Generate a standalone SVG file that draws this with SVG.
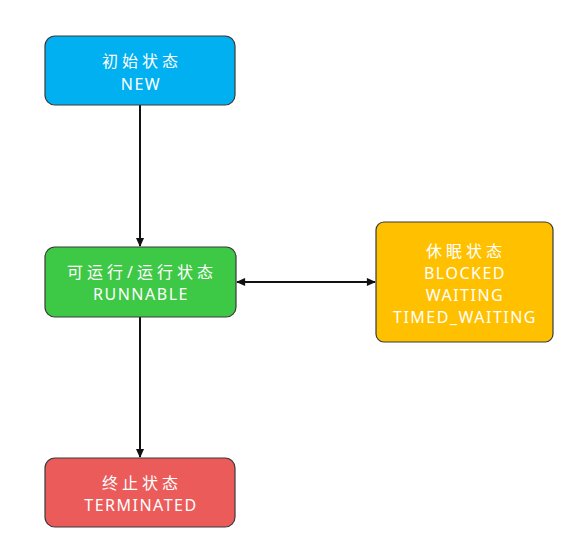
<svg xmlns="http://www.w3.org/2000/svg" width="578" height="548" viewBox="0 0 578 548">
<style>
.box{stroke:#3a3a3a;stroke-width:1.2}
.t{font-family:"Noto Sans","Noto Sans CJK SC",sans-serif;font-size:16px;fill:#ffffff;text-anchor:middle;letter-spacing:1.5px}
.z{letter-spacing:4px}
.c{stroke:#111;stroke-width:2;fill:none}
</style>
<defs>
<marker id="ah" viewBox="0 0 10 10" refX="9" refY="5" markerWidth="10" markerHeight="9" orient="auto-start-reverse" markerUnits="userSpaceOnUse">
<path d="M0,0.5 L10,5 L0,9.5 Z" fill="#111"/>
</marker>
</defs>
<rect width="578" height="548" fill="#ffffff"/>
<g id="connectors">
<line class="c" x1="140" y1="105" x2="140" y2="246" marker-end="url(#ah)"/>
<line class="c" x1="140" y1="317" x2="140" y2="457" marker-end="url(#ah)"/>
<line class="c" x1="237" y1="282" x2="375" y2="282" marker-start="url(#ah)" marker-end="url(#ah)"/>
</g>
<g id="node-new">
<rect class="box" x="45" y="36" width="190" height="69" rx="10" fill="#00B0F0"/>
<text class="t z" x="142" y="67">初始状态</text>
<text class="t" x="141" y="90">NEW</text>
</g>
<g id="node-runnable">
<rect class="box" x="45" y="247" width="191" height="70" rx="10" fill="#3DC845"/>
<text class="t z" x="142" y="278">可运行/运行状态</text>
<text class="t" x="141" y="300">RUNNABLE</text>
</g>
<g id="node-waiting">
<rect class="box" x="376" y="222" width="177" height="120" rx="8" fill="#FFC000"/>
<text class="t z" x="466" y="257">休眠状态</text>
<text class="t" x="465" y="279">BLOCKED</text>
<text class="t" x="465" y="301">WAITING</text>
<text class="t" x="465" y="323">TIMED_WAITING</text>
</g>
<g id="node-terminated">
<rect class="box" x="45" y="458" width="190" height="69" rx="10" fill="#EA5B5A"/>
<text class="t z" x="142" y="489">终止状态</text>
<text class="t" x="141" y="511">TERMINATED</text>
</g>
</svg>
